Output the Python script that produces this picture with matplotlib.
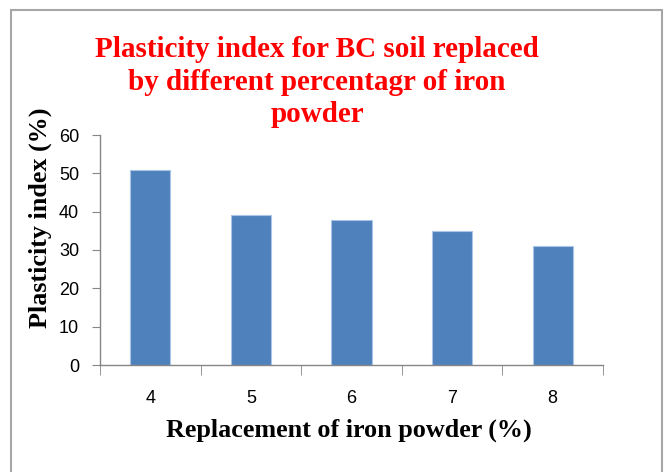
#!/usr/bin/env python3

import matplotlib
matplotlib.use('Agg')
import matplotlib.pyplot as plt
from matplotlib.patches import Rectangle
import numpy as np

# chart data
categories = ['4', '5', '6', '7', '8']
plasticity = [50.8, 39.2, 37.8, 34.9, 31.0]
y_ticks = [0, 10, 20, 30, 40, 50, 60]

title = 'Plasticity index for BC soil replaced\nby different percentagr of iron\npowder'
x_label = 'Replacement of iron powder (%)'
y_label = 'Plasticity index (%)'

W, H = 666, 472
fig = plt.figure(figsize=(W / 100, H / 100), dpi=100)

# outer chart-area frame
fig.patches.append(Rectangle((11 / W, -0.05), 651 / W, 1 - 10 / H + 0.05,
                             transform=fig.transFigure, fill=False,
                             edgecolor='#a6a6a6', linewidth=1.5))

ax = fig.add_axes([100 / W, 1 - 365 / H, 503 / W, 230 / H])

x = np.arange(len(categories))
ax.bar(x, plasticity, width=0.4, color='#4f81bd', edgecolor='#a9c4e6', linewidth=0.8)

ax.set_xlim(-0.5, len(categories) - 0.5)
ax.set_ylim(0, 60)

for s in ['top', 'right']:
    ax.spines[s].set_visible(False)
for s in ['left', 'bottom']:
    ax.spines[s].set_color('#868686')
    ax.spines[s].set_linewidth(1.0)

tick_font = dict(family=['Liberation Sans', 'DejaVu Sans'], size=13)
ax.set_yticks(y_ticks)
ax.set_yticklabels([str(v) for v in y_ticks], **tick_font)
ax.set_xticks(x)
ax.set_xticklabels(categories, **tick_font)
ax.set_xticks(np.arange(len(categories) + 1) - 0.5, minor=True)
ax.tick_params(axis='x', which='major', length=0, pad=18)
ax.tick_params(axis='x', which='minor', length=7, color='#868686', direction='out')
ax.tick_params(axis='y', length=6, color='#868686', direction='out', pad=9)

# axis titles placed like the Excel original (y title sits a bit high)
label_font = dict(family=['Liberation Serif', 'DejaVu Serif'], size=18.8, weight='bold')
fig.text(349 / W, 1 - 430 / H, x_label, ha='center', va='center', **label_font)
fig.text(40 / W, 1 - 218 / H, y_label, ha='center', va='center', rotation=90,
         **label_font)

fig.text(317 / W, 1 - 82 / H, title, ha='center', va='center', color='#ff0000',
         family=['Liberation Serif', 'DejaVu Serif'], size=21, weight='bold',
         linespacing=1.25)

fig.savefig('out.png', dpi=100)
